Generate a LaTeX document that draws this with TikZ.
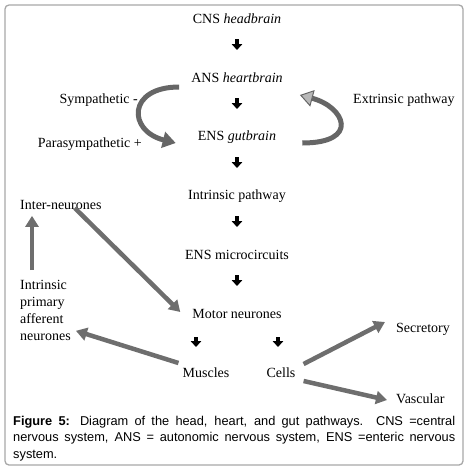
\documentclass[tikz,border=0pt]{standalone}
\usepackage{fontspec}
\setmainfont{Liberation Serif}
\newfontfamily\capfont{Liberation Sans}
\usepackage{tikz}
\usetikzlibrary{arrows.meta,positioning}
\definecolor{framegray}{HTML}{A8A8A8}
\definecolor{arrowgray}{HTML}{6E6E6E}
\definecolor{curvedark}{HTML}{666666}
\definecolor{curvelight}{HTML}{B8B8B8}

\begin{document}
\begin{tikzpicture}[x=1pt, y=-1pt, node distance=59pt, inner sep=2pt,
	every node/.style={font=\fontsize{14}{17}\selectfont},
	smalldown/.style={-{Triangle[width=10.5pt,length=6pt]}, line width=3.2pt, shorten <=20pt, shorten >=28pt},
	thickarrow/.style={-{Triangle[width=13pt,length=11pt]}, draw=arrowgray, line width=4.5pt},
	sympcurve/.style={-{Triangle[width=16pt,length=13pt]}, draw=curvedark, line width=5pt},
	extrcurve/.style={-{Triangle[width=17pt,length=13pt,fill=curvelight,color=curvedark,line width=1pt]}, draw=curvedark, line width=5pt},
	capnode/.style={anchor=north west, inner sep=0pt, text width=442pt, align=justify, font=\capfont\fontsize{12.8}{16.5}\selectfont}]
	\useasboundingbox (0,0) rectangle (465,472);
	\draw[framegray, line width=1.3pt, rounded corners=4pt] (5,5) rectangle (463,465);

	\node         (CNS) at (237,19)        {CNS \textit{headbrain}};
	\node         (ANS) [below of=CNS]     {ANS \textit{heartbrain}};
	\node         (ENS) [below of=ANS]     {ENS \textit{gutbrain}};
	\node         (INTR) [below of=ENS]    {Intrinsic pathway};
	\node         (MICRO) [below of=INTR]  {ENS microcircuits};
	\node         (MOTOR) [below of=MICRO] {Motor neurones};
	\node         (MUSC) at (206,373)      {Muscles};
	\node         (CELLS) at (281,373)     {Cells};
	\node[anchor=west] (SECR) at (394,329) {Secretory};
	\node[anchor=west] (VASC) at (394,399) {Vascular};
	\node[anchor=west] (INTER) at (18,205) {Inter-neurones};
	\node[anchor=north west, align=left] (IPAN) at (18,278) {Intrinsic\\primary\\afferent\\neurones};
	\node[anchor=east] (SYMP) at (140,100)  {Sympathetic -};
	\node[anchor=east] (PARA) at (144,144)  {Parasympathetic +};
	\node[anchor=west] (EXTR) at (351,100)  {Extrinsic pathway};

	% small black arrows down the middle
	\draw[smalldown] (CNS.center) -- (ANS.center);
	\draw[smalldown] (ANS.center) -- (ENS.center);
	\draw[smalldown] (ENS.center) -- (INTR.center);
	\draw[smalldown] (INTR.center) -- (MICRO.center);
	\draw[smalldown] (MICRO.center) -- (MOTOR.center);
	\draw[smalldown, shorten <=23pt, shorten >=26pt] ([xshift=-10pt]MUSC.center |- MOTOR.center) -- ([xshift=-10pt]MUSC.center);
	\draw[smalldown, shorten <=23pt, shorten >=26pt] ([xshift=-3pt]CELLS.center |- MOTOR.center) -- ([xshift=-3pt]CELLS.center);

	% curved arrows
	\draw[sympcurve] ([shift={(-10,9)}]ANS.west) .. controls +(-52,0) and +(-48,-12) .. ([shift={(-20,6)}]ENS.west);
	\draw[extrcurve] ([shift={(24,6)}]ENS.east) .. controls +(58,0) and +(45,12) .. ([shift={(15,17)}]ANS.east);

	% grey arrows
	\draw[thickarrow] ([shift={(14,-8)}]IPAN.north west) -- ([shift={(14,4)}]INTER.south west);
	\draw[thickarrow] ([shift={(-29,3)}]INTER.east) -- ([shift={(-10,-2)}]MOTOR.west);
	\draw[thickarrow] ([shift={(-2,-10)}]MUSC.west) -- ([shift={(3,-12)}]IPAN.south east);
	\draw[thickarrow] ([shift={(6,-9)}]CELLS.east) -- ([shift={(-9,-7)}]SECR.west);
	\draw[thickarrow] ([shift={(6,8)}]CELLS.east) -- ([shift={(-7,1)}]VASC.west);

	\node[capnode] (CAP) at (13,416) {\textbf{Figure 5:} Diagram of the head, heart, and gut pathways. CNS =central\linebreak nervous system, ANS = autonomic nervous system, ENS =enteric nervous\linebreak system.};
\end{tikzpicture}
\end{document}
